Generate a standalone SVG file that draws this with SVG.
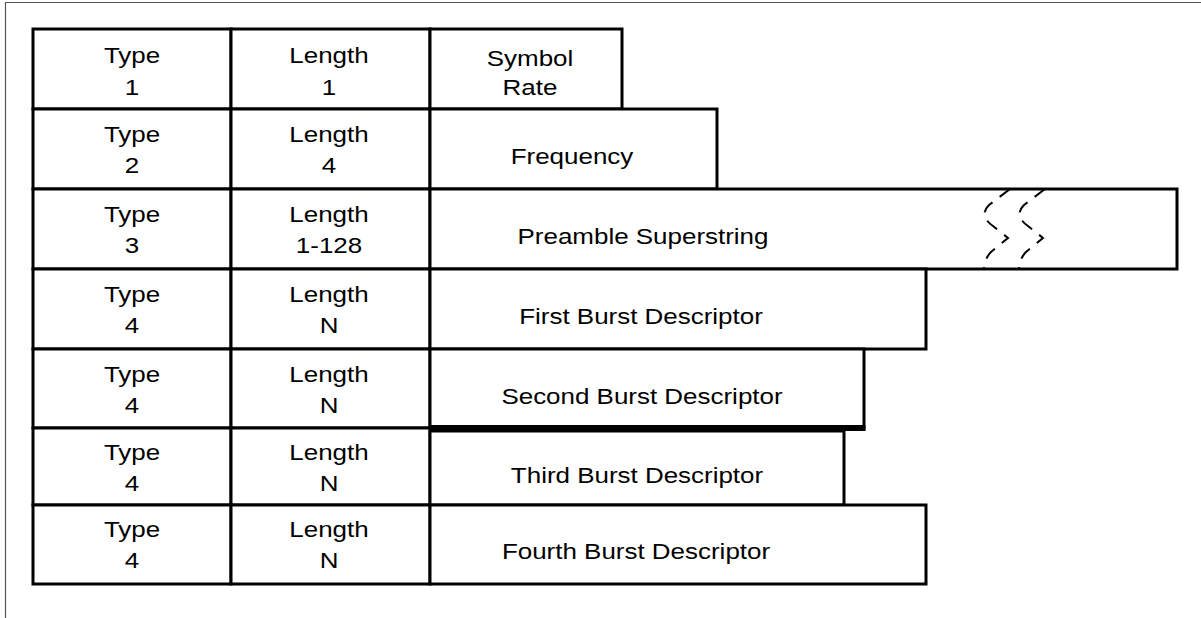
<svg xmlns="http://www.w3.org/2000/svg" width="1201" height="618" viewBox="0 0 1201 618">
<style>
.c{fill:#fff;stroke:#000;stroke-width:3}
.t{font-family:"Liberation Sans",Arial,sans-serif;font-size:22px;fill:#000;text-anchor:middle}
.w{fill:none;stroke:#000;stroke-width:2;stroke-dasharray:13 9}
</style>
<rect x="0" y="0" width="1201" height="618" fill="#fff"/>
<path d="M5.5,618 V2.5 H1201" fill="none" stroke="#555" stroke-width="1.2"/>
<g id="row1">
<g id="type1"><rect class="c" x="33" y="29" width="198" height="80"/><text class="t" transform="translate(132,63) scale(1.18,1)">Type</text><text class="t" transform="translate(132,95) scale(1.18,1)">1</text></g>
<g id="length1"><rect class="c" x="231" y="29" width="199" height="80"/><text class="t" transform="translate(329,63) scale(1.18,1)">Length</text><text class="t" transform="translate(329,95) scale(1.18,1)">1</text></g>
<g id="symbolrate"><rect class="c" x="430" y="29" width="192" height="80"/><text class="t" transform="translate(530,66) scale(1.18,1)">Symbol</text><text class="t" transform="translate(530,95) scale(1.18,1)">Rate</text></g>
</g>
<g id="row2">
<g id="type2"><rect class="c" x="33" y="109" width="198" height="80"/><text class="t" transform="translate(132,142) scale(1.18,1)">Type</text><text class="t" transform="translate(132,173) scale(1.18,1)">2</text></g>
<g id="length2"><rect class="c" x="231" y="109" width="199" height="80"/><text class="t" transform="translate(329,142) scale(1.18,1)">Length</text><text class="t" transform="translate(329,173) scale(1.18,1)">4</text></g>
<g id="frequency"><rect class="c" x="430" y="109" width="287" height="80"/><text class="t" transform="translate(572,164) scale(1.18,1)">Frequency</text></g>
</g>
<g id="row3">
<g id="type3"><rect class="c" x="33" y="189" width="198" height="80"/><text class="t" transform="translate(132,222) scale(1.18,1)">Type</text><text class="t" transform="translate(132,253) scale(1.18,1)">3</text></g>
<g id="length3"><rect class="c" x="231" y="189" width="199" height="80"/><text class="t" transform="translate(329,222) scale(1.18,1)">Length</text><text class="t" transform="translate(329,253) scale(1.18,1)">1-128</text></g>
<g id="preamble"><rect class="c" x="430" y="189" width="747" height="80"/><text class="t" transform="translate(643,244) scale(1.18,1)">Preamble Superstring</text>
<path class="w" d="M1010,189 L989,205 Q983,211 985,217 Q987,222 993,226 L1008,238 L991,252 Q985,258 984,268"/>
<path class="w" d="M1045,189 L1024,205 Q1018,211 1020,217 Q1022,222 1028,226 L1043,238 L1026,252 Q1020,258 1019,268"/>
</g>
</g>
<g id="row4">
<g id="type4a"><rect class="c" x="33" y="269" width="198" height="80"/><text class="t" transform="translate(132,302) scale(1.18,1)">Type</text><text class="t" transform="translate(132,333) scale(1.18,1)">4</text></g>
<g id="length4a"><rect class="c" x="231" y="269" width="199" height="80"/><text class="t" transform="translate(329,302) scale(1.18,1)">Length</text><text class="t" transform="translate(329,333) scale(1.18,1)">N</text></g>
<g id="first"><rect class="c" x="430" y="269" width="496" height="80"/><text class="t" transform="translate(641,324) scale(1.18,1)">First Burst Descriptor</text></g>
</g>
<g id="row5">
<g id="type4b"><rect class="c" x="33" y="349" width="198" height="79"/><text class="t" transform="translate(132,382) scale(1.18,1)">Type</text><text class="t" transform="translate(132,413) scale(1.18,1)">4</text></g>
<g id="length4b"><rect class="c" x="231" y="349" width="199" height="79"/><text class="t" transform="translate(329,382) scale(1.18,1)">Length</text><text class="t" transform="translate(329,413) scale(1.18,1)">N</text></g>
<g id="second"><rect class="c" x="430" y="349" width="434" height="79"/><line x1="430" y1="428" x2="865.5" y2="428" stroke="#000" stroke-width="6"/><text class="t" transform="translate(642,404) scale(1.18,1)">Second Burst Descriptor</text></g>
</g>
<g id="row6">
<g id="type4c"><rect class="c" x="33" y="428" width="198" height="77"/><text class="t" transform="translate(132,460) scale(1.18,1)">Type</text><text class="t" transform="translate(132,491) scale(1.18,1)">4</text></g>
<g id="length4c"><rect class="c" x="231" y="428" width="199" height="77"/><text class="t" transform="translate(329,460) scale(1.18,1)">Length</text><text class="t" transform="translate(329,491) scale(1.18,1)">N</text></g>
<g id="third"><rect class="c" x="430" y="431" width="414" height="74"/><text class="t" transform="translate(637,483) scale(1.18,1)">Third Burst Descriptor</text></g>
</g>
<g id="row7">
<g id="type4d"><rect class="c" x="33" y="505" width="198" height="79"/><text class="t" transform="translate(132,537) scale(1.18,1)">Type</text><text class="t" transform="translate(132,568) scale(1.18,1)">4</text></g>
<g id="length4d"><rect class="c" x="231" y="505" width="199" height="79"/><text class="t" transform="translate(329,537) scale(1.18,1)">Length</text><text class="t" transform="translate(329,568) scale(1.18,1)">N</text></g>
<g id="fourth"><rect class="c" x="430" y="505" width="496" height="79"/><text class="t" transform="translate(636,559) scale(1.18,1)">Fourth Burst Descriptor</text></g>
</g>
<g id="connectors"></g>
</svg>
